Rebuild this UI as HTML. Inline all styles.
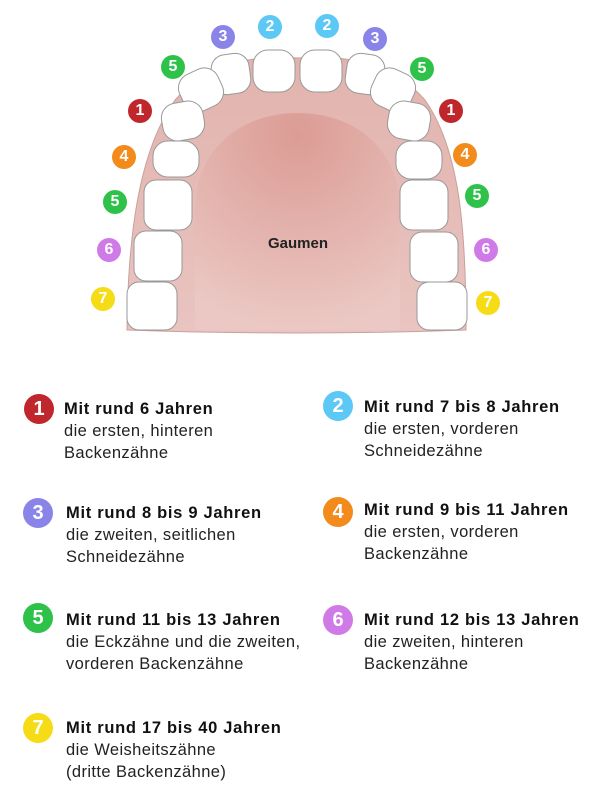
<!DOCTYPE html>
<html><head><meta charset="utf-8"><style>
body{margin:0;width:600px;height:800px;background:#fff;font-family:"Liberation Sans",sans-serif;position:relative;overflow:hidden}
.b{position:absolute;border-radius:50%;color:#fff;font-weight:bold;text-align:center}
.lg{position:absolute;font-size:16.5px;letter-spacing:0.4px;line-height:22px;color:#222}
.lg b{color:#111;letter-spacing:0.7px}
</style></head><body>
<svg width="600" height="340" style="position:absolute;left:0;top:0">
<defs>
<linearGradient id="g1" x1="0" y1="0" x2="0" y2="1"><stop offset="0" stop-color="#e2b3ad"/><stop offset="1" stop-color="#e9c4c0"/></linearGradient>
<radialGradient id="g2" cx="0.5" cy="0.1" r="0.9"><stop offset="0" stop-color="#d9958d"/><stop offset="1" stop-color="#ecc9c5"/></radialGradient>
</defs>
<path d="M127,330 C128,230 140,150 175,100 C210,60 260,55 298,58 C340,55 390,60 425,100 C460,150 466,230 466,330 Q300,336 127,330Z" fill="url(#g1)" stroke="#c9a09b"/>
<path d="M195,330 L195,210 C195,150 240,113 298,113 C356,113 400,150 400,210 L400,330Z" fill="url(#g2)" opacity="0.8"/>
<g fill="#fff" stroke="#999" stroke-width="1">
<rect x="212" y="54" width="38" height="40" rx="14" transform="rotate(-8 231 74)"/>
<rect x="253" y="50" width="42" height="42" rx="15"/>
<rect x="300" y="50" width="42" height="42" rx="15"/>
<rect x="346" y="54" width="38" height="40" rx="14" transform="rotate(8 365 74)"/>
<rect x="180" y="70" width="42" height="40" rx="15" transform="rotate(-25 201 90)"/>
<rect x="372" y="70" width="42" height="40" rx="15" transform="rotate(25 393 90)"/>
<rect x="162" y="102" width="42" height="38" rx="15" transform="rotate(-10 183 121)"/>
<rect x="388" y="102" width="42" height="38" rx="15" transform="rotate(10 409 121)"/>
<rect x="153" y="141" width="46" height="36" rx="15"/>
<rect x="396" y="141" width="46" height="38" rx="15"/>
<rect x="144" y="180" width="48" height="50" rx="12"/>
<rect x="400" y="180" width="48" height="50" rx="12"/>
<rect x="134" y="231" width="48" height="50" rx="12"/>
<rect x="410" y="232" width="48" height="50" rx="12"/>
<rect x="127" y="282" width="50" height="48" rx="12"/>
<rect x="417" y="282" width="50" height="48" rx="12"/>
</g>
<text x="298" y="248" text-anchor="middle" font-family="Liberation Sans" font-weight="bold" font-size="15" fill="#222">Gaumen</text>
</svg>
<div class="b" style="left:211px;top:25px;width:24px;height:24px;line-height:24px;font-size:16px;background:#8a84e8">3</div>
<div class="b" style="left:258px;top:15px;width:24px;height:24px;line-height:24px;font-size:16px;background:#5bc8f5">2</div>
<div class="b" style="left:315px;top:14px;width:24px;height:24px;line-height:24px;font-size:16px;background:#5bc8f5">2</div>
<div class="b" style="left:363px;top:27px;width:24px;height:24px;line-height:24px;font-size:16px;background:#8a84e8">3</div>
<div class="b" style="left:161px;top:55px;width:24px;height:24px;line-height:24px;font-size:16px;background:#2ec24a">5</div>
<div class="b" style="left:410px;top:57px;width:24px;height:24px;line-height:24px;font-size:16px;background:#2ec24a">5</div>
<div class="b" style="left:128px;top:99px;width:24px;height:24px;line-height:24px;font-size:16px;background:#c0272d">1</div>
<div class="b" style="left:439px;top:99px;width:24px;height:24px;line-height:24px;font-size:16px;background:#c0272d">1</div>
<div class="b" style="left:112px;top:145px;width:24px;height:24px;line-height:24px;font-size:16px;background:#f28a1c">4</div>
<div class="b" style="left:453px;top:143px;width:24px;height:24px;line-height:24px;font-size:16px;background:#f28a1c">4</div>
<div class="b" style="left:103px;top:190px;width:24px;height:24px;line-height:24px;font-size:16px;background:#2ec24a">5</div>
<div class="b" style="left:465px;top:184px;width:24px;height:24px;line-height:24px;font-size:16px;background:#2ec24a">5</div>
<div class="b" style="left:97px;top:238px;width:24px;height:24px;line-height:24px;font-size:16px;background:#d07ae8">6</div>
<div class="b" style="left:474px;top:238px;width:24px;height:24px;line-height:24px;font-size:16px;background:#d07ae8">6</div>
<div class="b" style="left:91px;top:287px;width:24px;height:24px;line-height:24px;font-size:16px;background:#f5dc16">7</div>
<div class="b" style="left:476px;top:291px;width:24px;height:24px;line-height:24px;font-size:16px;background:#f5dc16">7</div>

<div class="b" style="left:24px;top:394px;width:30px;height:30px;line-height:30px;font-size:20px;background:#c0272d">1</div>
<div class="lg" style="left:64px;top:398px"><b>Mit rund 6 Jahren</b><br>die ersten, hinteren<br>Backenzähne</div>
<div class="b" style="left:323px;top:391px;width:30px;height:30px;line-height:30px;font-size:20px;background:#5bc8f5">2</div>
<div class="lg" style="left:364px;top:396px"><b>Mit rund 7 bis 8 Jahren</b><br>die ersten, vorderen<br>Schneidezähne</div>
<div class="b" style="left:23px;top:498px;width:30px;height:30px;line-height:30px;font-size:20px;background:#8a84e8">3</div>
<div class="lg" style="left:66px;top:502px"><b>Mit rund 8 bis 9 Jahren</b><br>die zweiten, seitlichen<br>Schneidezähne</div>
<div class="b" style="left:323px;top:497px;width:30px;height:30px;line-height:30px;font-size:20px;background:#f28a1c">4</div>
<div class="lg" style="left:364px;top:499px"><b>Mit rund 9 bis 11 Jahren</b><br>die ersten, vorderen<br>Backenzähne</div>
<div class="b" style="left:23px;top:603px;width:30px;height:30px;line-height:30px;font-size:20px;background:#2ec24a">5</div>
<div class="lg" style="left:66px;top:609px"><b>Mit rund 11 bis 13 Jahren</b><br>die Eckzähne und die zweiten,<br>vorderen Backenzähne</div>
<div class="b" style="left:323px;top:605px;width:30px;height:30px;line-height:30px;font-size:20px;background:#d07ae8">6</div>
<div class="lg" style="left:364px;top:609px"><b>Mit rund 12 bis 13 Jahren</b><br>die zweiten, hinteren<br>Backenzähne</div>
<div class="b" style="left:23px;top:713px;width:30px;height:30px;line-height:30px;font-size:20px;background:#f5dc16">7</div>
<div class="lg" style="left:66px;top:717px"><b>Mit rund 17 bis 40 Jahren</b><br>die Weisheitszähne<br>(dritte Backenzähne)</div>
</body></html>
